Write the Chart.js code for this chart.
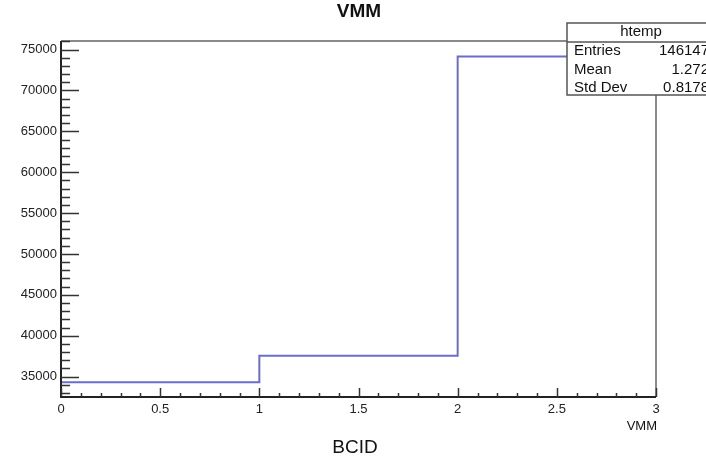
<!DOCTYPE html>
<html>
<head>
<meta charset="utf-8">
<script src="https://cdn.jsdelivr.net/npm/chart.js@4"></script>
<style>
  body { margin: 0; background: #fff; }
  canvas { display: block; }
</style>
</head>
<body>
<canvas id="histChart" width="706" height="462"></canvas>
<script>
// histogram htemp: VMM, 3 bins of width 1
const binEdges = [0, 1, 2, 3];
const binCounts = [34300, 37550, 74150];
const xTicks = [0, 0.5, 1, 1.5, 2, 2.5, 3];
const yTicks = [35000, 40000, 45000, 50000, 55000, 60000, 65000, 70000, 75000];
const statsLabels = ['Entries', 'Mean', 'Std Dev'];
const statsValues = ['146147', '1.272', '0.8178'];

const font = '"Liberation Sans", Arial, Helvetica, sans-serif';

// step points: each bin drawn from its left edge, last edge repeats last count
const points = binEdges.map((x, i) => ({ x: x, y: binCounts[Math.min(i, binCounts.length - 1)] }));

const rootStyle = {
  id: 'rootStyle',
  afterDraw(chart) {
    const ctx = chart.ctx;
    const a = chart.chartArea;
    const xs = chart.scales.x;
    const ys = chart.scales.y;
    ctx.save();

    // frame
    ctx.strokeStyle = '#8a8a8a';
    ctx.lineWidth = 2;
    ctx.beginPath();
    ctx.moveTo(a.left, a.top);
    ctx.lineTo(a.right, a.top);
    ctx.lineTo(a.right, a.bottom);
    ctx.stroke();

    // axes
    ctx.strokeStyle = '#222';
    ctx.lineWidth = 2;
    ctx.beginPath();
    ctx.moveTo(a.left, a.top);
    ctx.lineTo(a.left, a.bottom);
    ctx.lineTo(a.right, a.bottom);
    ctx.stroke();

    // x ticks: major 0.5, minor 0.1
    ctx.lineWidth = 1.5;
    ctx.strokeStyle = '#333';
    ctx.beginPath();
    for (let i = 0; i <= 30; i++) {
      const px = Math.round(xs.getPixelForValue(i / 10)) + 0.5;
      const len = (i % 5 === 0) ? 9 : 4;
      ctx.moveTo(px, a.bottom);
      ctx.lineTo(px, a.bottom - len);
    }
    ctx.stroke();

    // y ticks: major 5000, minor 1000
    ctx.beginPath();
    for (let v = 33000; v <= 76000; v += 1000) {
      const py = Math.round(ys.getPixelForValue(v)) + 0.5;
      const len = (v % 5000 === 0) ? 18 : 9;
      ctx.moveTo(a.left, py);
      ctx.lineTo(a.left + len, py);
    }
    ctx.stroke();

    // titles
    ctx.fillStyle = '#111';
    ctx.textAlign = 'center';
    ctx.textBaseline = 'middle';
    ctx.font = 'bold 19px ' + font;
    ctx.fillText('VMM', 359, 12);
    ctx.font = '19px ' + font;
    ctx.fillText('BCID', 355, 448);
    ctx.font = '13px ' + font;
    ctx.textAlign = 'right';
    ctx.fillText('VMM', 657, 426);

    // stats box
    const bx = 567, by = 23, bw = 150, bh = 72;
    ctx.fillStyle = '#fff';
    ctx.fillRect(bx, by, bw, bh);
    ctx.strokeStyle = '#555';
    ctx.lineWidth = 1.5;
    ctx.strokeRect(bx, by, bw, bh);
    ctx.beginPath();
    ctx.moveTo(bx, 42);
    ctx.lineTo(bx + bw, 42);
    ctx.stroke();

    ctx.fillStyle = '#111';
    ctx.font = '15px ' + font;
    ctx.textAlign = 'center';
    ctx.fillText('htemp', 641, 32);
    const rowY = [51, 69.5, 88];
    statsLabels.forEach((lab, i) => {
      ctx.textAlign = 'left';
      ctx.fillText(lab, 574, rowY[i]);
      ctx.textAlign = 'right';
      ctx.fillText(statsValues[i], 709, rowY[i]);
    });
    ctx.restore();
  }
};

new Chart(document.getElementById('histChart'), {
  type: 'line',
  data: {
    datasets: [{
      label: 'htemp',
      data: points,
      stepped: true,
      borderColor: '#6c6cc9',
      borderWidth: 2,
      pointRadius: 0,
      fill: false,
      tension: 0
    }]
  },
  plugins: [rootStyle],
  options: {
    responsive: false,
    animation: false,
    events: [],
    layout: { padding: { top: 41, right: 50, bottom: 0, left: 0 } },
    plugins: {
      legend: { display: false },
      title: { display: false },
      tooltip: { enabled: false }
    },
    scales: {
      x: {
        type: 'linear',
        min: 0,
        max: 3,
        afterFit: s => { s.height = 65; },
        afterBuildTicks: s => { s.ticks = xTicks.map(v => ({ value: v })); },
        grid: { display: false, drawTicks: false },
        border: { display: false },
        ticks: {
          padding: 5,
          color: '#222',
          font: { family: font, size: 13 },
          maxRotation: 0,
          autoSkip: false,
          callback: v => String(v)
        }
      },
      y: {
        type: 'linear',
        min: 32500,
        max: 76050,
        afterFit: s => { s.width = 61; },
        afterBuildTicks: s => { s.ticks = yTicks.map(v => ({ value: v })); },
        grid: { display: false, drawTicks: false },
        border: { display: false },
        ticks: {
          padding: 4,
          color: '#222',
          font: { family: font, size: 13 },
          autoSkip: false,
          callback: v => String(v)
        }
      }
    }
  }
});
</script>
</body>
</html>
